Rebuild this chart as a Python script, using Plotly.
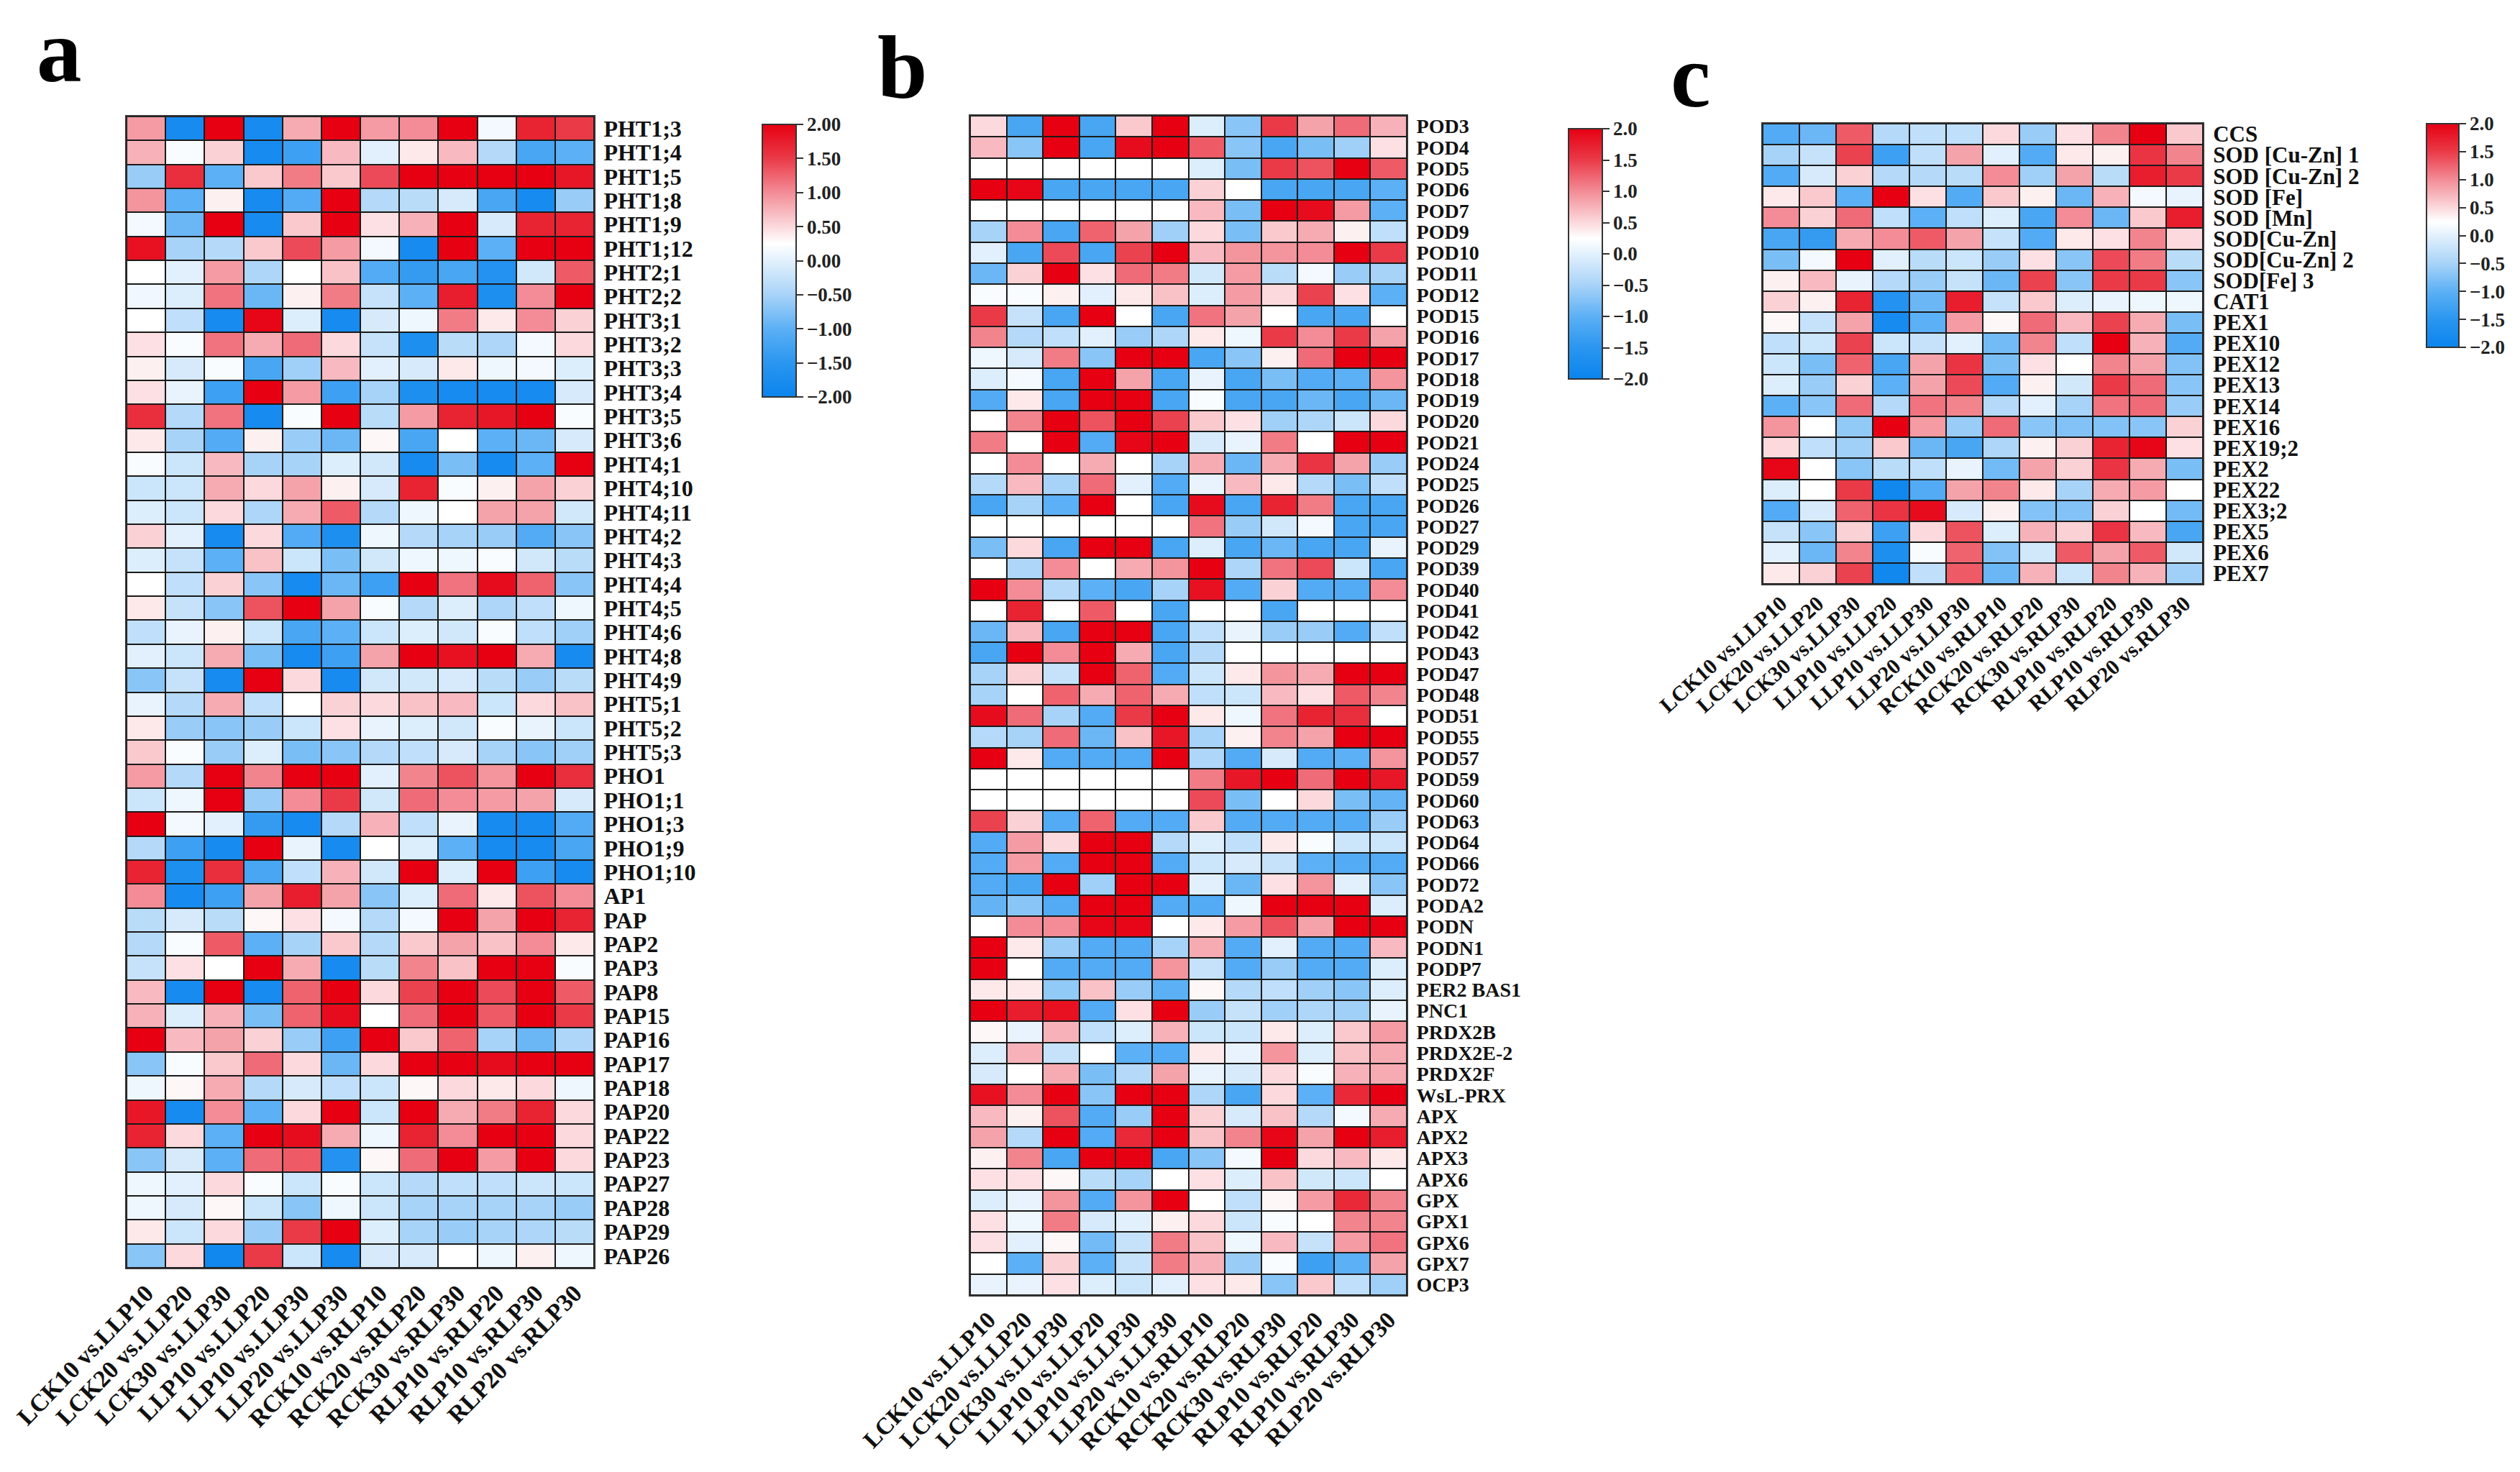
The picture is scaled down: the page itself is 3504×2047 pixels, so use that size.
import plotly.graph_objects as go

W, H = 3504, 2047
FONT = "Liberation Serif"

comparisons = ["LCK10 vs.LLP10", "LCK20 vs.LLP20", "LCK30 vs.LLP30", "LLP10 vs.LLP20", "LLP10 vs.LLP30", "LLP20 vs.LLP30",
               "RCK10 vs.RLP10", "RCK20 vs.RLP20", "RCK30 vs.RLP30", "RLP10 vs.RLP20", "RLP10 vs.RLP30", "RLP20 vs.RLP30"]

genes_a = ["PHT1;3", "PHT1;4", "PHT1;5", "PHT1;8", "PHT1;9", "PHT1;12", "PHT2;1", "PHT2;2", "PHT3;1", "PHT3;2", "PHT3;3", "PHT3;4",
           "PHT3;5", "PHT3;6", "PHT4;1", "PHT4;10", "PHT4;11", "PHT4;2", "PHT4;3", "PHT4;4", "PHT4;5", "PHT4;6", "PHT4;8", "PHT4;9",
           "PHT5;1", "PHT5;2", "PHT5;3", "PHO1", "PHO1;1", "PHO1;3", "PHO1;9", "PHO1;10", "AP1", "PAP", "PAP2", "PAP3", "PAP8",
           "PAP15", "PAP16", "PAP17", "PAP18", "PAP20", "PAP22", "PAP23", "PAP27", "PAP28", "PAP29", "PAP26"]

values_a = [
    [0.9, -1.8, 2, -1.8, 0.8, 2, 0.9, 1.0, 2, 0.15, 1.7, 1.5],
    [0.75, 0.2, 0.55, -1.8, -1.3, 0.7, 0.0, 0.4, 0.7, -0.4, -1.2, -1.0],
    [-0.6, 1.6, -1.0, 0.6, 1.1, 0.6, 1.4, 2, 2, 2, 2, 1.8],
    [0.95, -1.0, 0.35, -1.8, -1.1, 2, -0.4, -0.35, -0.1, -1.2, -1.8, -0.6],
    [0.15, -0.9, 2, -1.8, 0.6, 2, 0.45, 0.75, 2, -0.1, 1.7, 1.7],
    [1.85, -0.5, -0.4, 0.6, 1.4, 0.9, 0.15, -1.8, 2, -1.0, 2, 2],
    [0.25, 0.0, 0.9, -0.45, 0.25, 0.65, -1.1, -1.4, -1.2, -1.6, -0.15, 1.3],
    [0.12, -0.05, 1.15, -0.9, 0.35, 1.1, -0.25, -1.0, 1.75, -1.7, 1.0, 2],
    [0.25, -0.3, -1.8, 1.95, -0.05, -1.8, -0.1, 0.1, 1.1, 0.4, 1.0, 0.55],
    [0.45, 0.2, 1.15, 0.8, 1.2, 0.5, -0.25, -1.7, -0.35, -0.45, 0.15, 0.5],
    [0.35, -0.1, 0.2, -1.2, -0.55, 0.7, 0.0, -0.1, 0.4, 0.1, 0.15, -0.05],
    [0.45, 0.05, -1.3, 2, 0.9, -1.3, -0.5, -1.7, -1.8, -1.8, -1.8, -0.1],
    [1.6, -0.4, 1.15, -1.8, 0.2, 2, -0.35, 0.9, 1.7, 1.8, 2, 0.2],
    [0.4, -0.5, -1.1, 0.35, -0.6, -0.9, 0.3, -1.2, 0.25, -1.0, -0.9, -0.1],
    [0.2, -0.2, 0.7, -0.5, -0.5, -0.05, -0.15, -1.8, -0.8, -1.8, -1.0, 2],
    [-0.2, -0.2, 0.8, 0.5, 0.85, 0.35, -0.1, 1.7, 0.2, 0.35, 0.85, 0.55],
    [-0.05, -0.2, 0.5, -0.45, 0.8, 1.3, -0.4, 0.1, 0.25, 0.85, 0.85, -0.15],
    [0.55, 0.0, -1.8, 0.5, -1.1, -1.7, 0.1, -0.4, -0.5, -0.6, -1.1, -0.7],
    [-0.05, -0.25, -1.0, 0.65, -0.2, -0.8, -0.15, 0.1, 0.1, 0.2, -0.15, -0.35],
    [0.25, -0.3, 0.55, -0.7, -1.8, -0.9, -1.3, 2, 1.15, 1.9, 1.25, -0.7],
    [0.4, -0.25, -0.7, 1.35, 2, 0.85, 0.2, -0.4, -0.05, -0.45, -0.3, 0.1],
    [-0.3, 0.05, 0.35, -0.2, -1.2, -1.0, -0.2, -0.05, -0.15, 0.2, -0.3, -0.55],
    [0.0, -0.2, 0.8, -0.8, -1.8, -1.3, 0.85, 2, 1.85, 2, 0.8, -1.8],
    [-0.7, -0.25, -1.8, 2, 0.5, -1.8, -0.15, -0.15, -0.1, -0.35, -0.6, -0.35],
    [0.05, -0.4, 0.8, -0.3, 0.25, 0.55, 0.5, 0.65, 0.7, -0.2, 0.5, 0.65],
    [0.4, -0.6, -0.7, -0.6, -0.2, 0.45, 0.05, -0.05, -0.15, 0.2, 0.05, -0.2],
    [0.6, 0.2, -0.6, -0.05, -0.8, -0.7, -0.4, -0.3, -0.1, -0.5, -0.7, -0.55],
    [0.9, -0.4, 2, 1.05, 2, 2, 0.0, 1.05, 1.35, 0.95, 2, 1.6],
    [-0.2, 0.1, 2, -0.6, 1.0, 1.5, -0.15, 1.2, 1.0, 0.9, 0.85, -0.1],
    [2, 0.15, 0.0, -1.4, -1.8, -0.4, 0.75, -0.3, 0.05, -1.8, -1.8, -1.1],
    [-0.4, -1.3, -1.8, 2, 0.05, -1.8, 0.25, -0.05, -1.0, -1.8, -1.8, -1.2],
    [1.7, -1.7, 1.6, -1.2, -0.3, 0.75, -0.15, 2, -0.05, 2, -1.3, -1.8],
    [1.0, -1.8, -1.3, 0.85, 1.75, 0.85, -0.7, -0.05, 1.2, 0.4, 1.35, 1.0],
    [-0.35, -0.1, -0.35, 0.3, 0.45, 0.15, -0.4, 0.15, 2, 0.85, 2, 1.7],
    [-0.4, 0.2, 1.3, -1.0, -0.5, 0.6, -0.4, 0.6, 0.85, 0.65, 1.0, 0.4],
    [-0.25, 0.45, 0.25, 2, 0.8, -1.8, -0.35, 1.05, 0.65, 2, 2, 0.2],
    [0.7, -1.8, 2, -1.8, 1.25, 2, 0.5, 1.45, 2, 1.4, 2, 1.3],
    [0.75, -0.05, 0.75, -0.8, 1.25, 1.9, 0.25, 1.2, 2, 1.3, 2, 1.5],
    [2, 0.7, 0.85, 0.55, -0.6, -1.3, 2, 0.6, 1.25, -0.5, -0.9, -0.45],
    [-0.7, 0.2, 0.6, 1.2, 0.5, -0.9, 0.5, 2, 2, 1.9, 2, 2],
    [0.1, 0.3, 0.8, -0.4, -0.1, -0.3, -0.2, 0.3, 0.5, 0.4, 0.5, 0.1],
    [1.8, -1.8, 1.0, -1.0, 0.5, 2, -0.2, 2, 0.8, 1.1, 1.7, 0.5],
    [1.7, 0.5, -1.0, 2, 1.9, 0.8, 0.1, 1.7, 1.0, 2, 2, 0.5],
    [-0.7, -0.1, -1.0, 1.2, 1.3, -1.6, 0.3, 1.2, 2, 0.9, 2, 0.5],
    [0.1, 0.0, 0.5, 0.2, -0.2, 0.2, -0.2, -0.4, -0.3, -0.3, -0.2, -0.2],
    [0.1, -0.1, 0.3, -0.2, -0.7, 0.1, -0.2, -0.5, -0.5, -0.5, -0.5, -0.6],
    [0.4, -0.2, 0.5, -0.6, 1.5, 2, -0.05, -0.5, -0.6, -0.5, -0.45, -0.35],
    [-0.7, 0.5, -1.9, 1.5, -0.2, -1.8, -0.1, -0.1, 0.25, 0.1, 0.35, 0.1],
]

genes_b = ["POD3", "POD4", "POD5", "POD6", "POD7", "POD9", "POD10", "POD11", "POD12", "POD15", "POD16", "POD17", "POD18", "POD19",
           "POD20", "POD21", "POD24", "POD25", "POD26", "POD27", "POD29", "POD39", "POD40", "POD41", "POD42", "POD43", "POD47",
           "POD48", "POD51", "POD55", "POD57", "POD59", "POD60", "POD63", "POD64", "POD66", "POD72", "PODA2", "PODN", "PODN1",
           "PODP7", "PER2 BAS1", "PNC1", "PRDX2B", "PRDX2E-2", "PRDX2F", "WsL-PRX", "APX", "APX2", "APX3", "APX6", "GPX", "GPX1",
           "GPX6", "GPX7", "OCP3"]

values_b = [
    [0.5, -1.2, 2, -1.2, 0.6, 2, -0.05, -0.7, 1.5, 0.85, 1.2, 0.75],
    [0.7, -0.7, 2, -1.2, 1.9, 2, 1.3, -0.7, -1.2, -0.8, -0.55, 0.45],
    [0.25, 0.25, 0.25, 0.25, 0.25, 0.25, -0.05, -0.8, 1.5, 1.35, 2, 1.3],
    [2, 1.95, -1.2, -1.2, -1.2, -1.2, 0.55, 0.25, -1.2, -1.2, -1.2, -1.0],
    [0.25, 0.25, 0.25, 0.25, 0.25, 0.25, 0.7, -0.8, 2, 1.9, 0.9, -1.0],
    [-0.5, 1.0, -1.2, 1.25, 0.85, -0.55, 0.5, -0.8, 0.6, 0.8, 0.35, -0.3],
    [0.0, -1.2, 1.4, -1.2, 1.45, 2, 0.7, 0.95, 0.95, 1.0, 2, 1.5],
    [-0.9, 0.55, 2, 0.45, 1.2, 1.1, -0.15, 0.9, -0.35, 0.15, -0.6, -0.5],
    [0.2, 0.2, 0.35, 0.0, 0.4, 0.65, -0.05, 0.9, 0.5, 1.45, 0.45, -1.0],
    [1.5, -0.25, -1.2, 2, 0.25, -1.2, 1.15, 0.85, 0.25, -1.2, -1.2, 0.25],
    [1.05, -0.4, -0.3, 0.0, -0.6, -0.45, 0.4, 0.1, 1.5, 1.0, 1.5, 0.85],
    [0.1, -0.1, 1.1, -0.7, 2, 2, -1.2, -0.7, 0.35, 1.2, 2, 2],
    [-0.05, 0.15, -1.2, 2, 0.85, -1.2, 0.05, -1.2, -0.8, -1.1, -1.0, 0.95],
    [-1.1, 0.4, -1.2, 2, 2, -1.2, 0.2, -1.2, -1.2, -0.9, -1.2, -0.9],
    [0.25, 1.05, 2, 1.35, 2, 1.45, 0.6, 0.45, -0.55, -0.45, -0.2, 0.5],
    [1.1, 0.25, 2, -1.1, 1.95, 2, -0.1, 0.05, 1.1, 0.25, 2, 2],
    [0.25, 1.0, 0.25, 0.8, 0.25, -0.5, 0.8, -0.9, 0.8, 1.55, 0.85, -0.6],
    [-0.4, 0.7, -0.5, 1.2, 0.0, -1.1, 0.05, 0.7, 0.4, -0.4, -0.8, -0.3],
    [-1.2, -0.5, -1.0, 2, 0.25, -1.2, 1.9, -1.2, 1.7, 1.1, -1.2, -1.2],
    [0.25, 0.25, 0.25, 0.25, 0.25, 0.25, 1.15, -0.6, -0.15, 0.15, -1.2, -1.2],
    [-0.8, 0.5, -1.2, 2, 2, -1.2, -0.05, -1.2, -0.9, -1.2, -1.2, 0.05],
    [0.25, -0.45, 1.0, 0.25, 0.8, 0.95, 2, -0.45, 1.15, 1.4, -0.2, -1.2],
    [2, 1.0, -0.4, -1.0, -1.2, -0.5, 1.85, -1.1, 0.55, -1.1, -1.1, 1.0],
    [0.25, 1.7, 0.25, 1.3, 0.25, -1.2, 0.25, 0.25, -1.2, 0.25, 0.25, 0.25],
    [-0.9, 0.7, -1.2, 2, 2, -1.2, -0.3, 0.05, -0.6, -0.6, -1.1, -0.3],
    [-1.2, 2, 1.0, 2, 0.8, -1.2, -0.4, 0.25, 0.25, 0.25, 0.25, 0.25],
    [-0.5, 0.55, -0.25, 2, 1.25, -1.1, -0.2, 0.4, 0.95, 0.8, 2, 2],
    [-0.5, 0.25, 1.25, 0.8, 1.25, 0.8, -0.3, -0.2, 0.7, 0.45, 1.3, 1.05],
    [1.9, 1.2, -0.5, -1.1, 1.5, 2, 0.4, 0.1, 1.15, 1.7, 1.6, 0.25],
    [-0.4, -0.5, 1.2, -0.9, 0.65, 1.8, -0.5, 0.35, 1.05, 0.85, 2, 2],
    [2, 0.4, -1.1, -1.1, -1.1, 2, -0.45, -1.1, -0.1, -1.1, -1.0, 0.95],
    [0.25, 0.25, 0.25, 0.25, 0.25, 0.25, 1.1, 1.8, 2, 1.2, 2, 1.8],
    [0.25, 0.25, 0.25, 0.25, 0.25, 0.25, 1.4, -0.8, 0.25, 0.5, -0.8, -0.95],
    [1.45, 0.55, -1.1, 1.25, -1.1, -1.1, 0.6, -1.1, -1.1, -1.1, -1.1, -0.6],
    [-1.1, 0.9, 0.5, 2, 2, -0.4, -0.05, -0.3, 0.4, 0.2, -0.2, -0.2],
    [-1.1, 0.9, -1.1, 2, 2, -1.1, -0.2, -0.1, -0.25, -1.0, -1.1, -1.1],
    [-1.1, -1.2, 2, -0.55, 2, 2, 0.0, -0.9, 0.45, 0.95, 0.0, -0.7],
    [-0.95, -0.7, -1.1, 2, 2, -1.1, -1.1, 0.1, 2, 2, 2, -0.05],
    [0.25, 1.0, 1.0, 1.95, 1.95, 0.25, 0.4, 0.9, 1.35, 0.85, 2, 2],
    [2, 0.4, -0.6, -1.1, -1.1, -0.5, 0.8, -1.1, 0.0, -1.1, -1.1, 0.7],
    [2, 0.25, -1.1, -1.1, -1.1, 0.95, -0.25, -1.1, -0.6, -1.1, -1.1, -0.05],
    [0.4, 0.4, -0.65, 0.65, -0.6, -1.0, 0.3, -0.4, -0.3, -0.55, -0.7, -0.05],
    [2, 1.75, 1.85, -1.1, 0.45, 2, -0.6, -0.25, -0.55, -0.45, -0.55, 0.05],
    [0.3, 0.05, 0.75, -0.3, -0.05, 0.75, -0.2, -0.2, 0.4, -0.05, 0.6, 0.9],
    [-0.05, 0.75, -0.25, 0.25, -1.0, -1.1, 0.4, 0.05, 0.95, -0.05, 0.65, 0.8],
    [-0.1, 0.25, 0.8, -0.8, -0.4, 0.85, 0.05, -0.1, 0.5, 0.2, 0.75, 0.8],
    [1.85, 1.0, 2, -0.7, 2, 2, -0.45, -1.2, 0.5, -1.0, 1.65, 2],
    [0.7, 0.35, 1.35, -1.1, -0.6, 2, 0.55, -0.1, 0.65, -0.4, 0.15, 0.8],
    [0.85, -0.4, 2, -1.1, 1.65, 2, 0.65, 1.05, 1.95, 0.85, 2, 1.75],
    [0.35, 1.05, -1.2, 2, 2, -1.2, -0.7, 0.15, 2, 0.5, 0.7, 0.4],
    [0.45, 0.45, 0.3, -0.35, -0.5, 0.25, 0.45, -0.05, 0.65, -0.15, -0.2, 0.25],
    [-0.05, 0.05, 0.95, -1.1, 0.95, 2, 0.25, -0.3, 0.3, 0.9, 1.65, 1.05],
    [0.45, 0.1, 1.1, -0.1, 0.0, 0.35, 0.5, -0.2, 0.2, 0.25, 1.05, 1.05],
    [0.45, 0.0, 0.3, -0.85, -0.25, 1.1, 0.65, 0.1, 0.7, -0.25, 0.9, 1.15],
    [0.25, -1.0, 0.55, -1.0, -0.25, 1.1, 0.75, -0.6, 0.2, -1.3, -1.0, 0.85],
    [0.05, 0.05, 0.45, -0.05, -0.2, 0.0, 0.45, 0.4, -0.7, 0.6, -0.3, -0.55],
]

genes_c = ["CCS", "SOD [Cu-Zn] 1", "SOD [Cu-Zn] 2", "SOD [Fe]", "SOD [Mn]", "SOD[Cu-Zn]", "SOD[Cu-Zn] 2", "SOD[Fe] 3", "CAT1", "PEX1",
           "PEX10", "PEX12", "PEX13", "PEX14", "PEX16", "PEX19;2", "PEX2", "PEX22", "PEX3;2", "PEX5", "PEX6", "PEX7"]

values_c = [
    [-1.1, -0.9, 1.3, -0.4, -0.3, -0.3, 0.5, -0.6, 0.45, 1.05, 2, 0.6],
    [-0.5, -0.25, 1.45, -1.3, -0.3, 0.85, 0.0, -1.1, 0.4, 0.35, 1.55, 1.05],
    [-1.1, -0.1, 0.55, -0.4, -0.4, -0.35, 1.0, -0.55, 0.85, -0.35, 1.75, 1.5],
    [0.4, 0.6, -1.0, 2, 0.45, -1.1, 0.6, 0.35, -0.9, 0.75, 0.15, 0.05],
    [1.0, 0.55, 1.2, -0.3, -1.0, -0.3, -0.05, -1.2, 1.0, -0.9, 0.6, 1.75],
    [-1.2, -1.4, 0.8, 1.0, 1.3, 0.85, -0.25, -1.1, 0.4, 0.45, 1.05, 0.5],
    [-0.8, 0.15, 2, 0.0, -0.35, -0.2, -0.6, 0.45, -0.7, 1.4, 1.1, -0.35],
    [0.35, 0.7, 0.05, -0.4, -0.6, -0.25, -0.9, 1.45, -0.7, 1.5, 1.5, -0.7],
    [0.55, 0.35, 1.7, -1.6, -0.9, 1.75, -0.25, 0.6, -0.05, 0.05, 0.1, 0.1],
    [0.3, -0.25, 0.85, -1.8, -1.0, 0.9, 0.3, 1.2, 0.7, 1.45, 0.8, -0.8],
    [-0.3, -0.2, 1.45, -0.2, -0.25, 0.0, -0.85, 1.05, -0.3, 2, 0.75, -1.1],
    [-0.2, -0.8, 1.25, -1.2, 0.85, 1.55, -0.8, 0.45, 0.25, 1.05, 0.85, -0.75],
    [-0.05, -0.6, 0.55, -1.0, 0.85, 1.4, -1.1, 0.35, -0.15, 1.5, 1.2, -0.7],
    [-1.0, -0.7, 1.2, -0.4, 1.15, 1.05, -0.4, 0.0, -0.5, 1.15, 1.2, -0.6],
    [0.95, 0.25, -0.65, 2, 0.9, -0.6, 1.2, -0.7, -0.75, -0.75, -0.7, 0.55],
    [0.5, -0.3, -0.55, 0.6, -0.9, -1.2, -0.45, 0.35, 0.55, 1.7, 1.95, 0.45],
    [1.95, 0.25, -0.7, -0.35, -0.3, 0.05, -0.85, 0.85, 0.55, 1.55, 0.8, -0.8],
    [-0.05, 0.25, 1.5, -1.9, -1.1, 0.85, 1.05, 0.4, -0.5, 0.8, 0.9, 0.25],
    [-1.1, -0.1, 1.25, 1.55, 1.9, -0.1, 0.35, -0.75, -0.75, 0.55, 0.25, -0.85],
    [-0.25, -0.7, 0.55, -1.3, 0.5, 1.35, -0.05, 0.75, 0.55, 1.55, 0.7, -1.2],
    [0.0, -0.9, 1.05, -1.7, 0.2, 1.25, -0.75, -0.15, 1.3, 0.85, 1.3, -0.15],
    [0.4, 0.55, 1.45, -1.9, -0.3, 1.3, -0.9, 0.75, -0.2, 1.05, 0.75, -0.55],
]

colorbar_ticks = [2.0, 1.5, 1.0, 0.5, 0.0, -0.5, -1.0, -1.5, -2.0]
colorscale = [[0, "#0a84ee"], [0.125, "#2a96f0"], [0.25, "#5cb0f5"], [0.375, "#a8d3f8"], [0.5625, "#ffffff"],
              [0.75, "#f38c96"], [0.875, "#ea3a48"], [1, "#e60012"]]


def px(x):
    return x / W


def py(y):
    return 1 - y / H


panels = [
    dict(name="", xa="x", ya="y", genes=genes_a, z=values_a, box=(176, 826, 162, 1763), font=32, xfont=34, angle=-46, off=0, yoff=5,
         cb=(1060, 173, 47, 379), fmt=".2f"),
    dict(name="2", xa="x2", ya="y2", genes=genes_b, z=values_b, box=(1349, 1956, 161, 1801), font=28, xfont=33, angle=-46, off=0, yoff=6,
         cb=(2181, 179, 47, 348), fmt=".1f"),
    dict(name="3", xa="x3", ya="y3", genes=genes_c, z=values_c, box=(2451, 3063, 172, 812), font=31, xfont=30, angle=-42, off=-4, yoff=6,
         cb=(3374, 172, 45, 311), fmt=".1f"),
]

fig = go.Figure()
layout = {}
for p in panels:
    x0, x1, y0, y1 = p["box"]
    cx, cy, ct, cl = p["cb"]
    fig.add_trace(go.Heatmap(
        z=p["z"], x=comparisons, y=p["genes"], xaxis=p["xa"], yaxis=p["ya"],
        zmin=-2, zmax=2, colorscale=colorscale, xgap=2, ygap=2,
        colorbar=dict(
            x=px(cx), xanchor="left", xpad=0, y=py(cy), yanchor="top", ypad=0,
            len=cl, lenmode="pixels", thickness=ct, thicknessmode="pixels",
            outlinecolor="#333333", outlinewidth=2,
            tickvals=colorbar_ticks, tickformat=p["fmt"], ticks="outside", ticklen=9, tickwidth=2, tickcolor="#333333",
            tickfont=dict(family=FONT, size=27, color="#222222", weight=700),
        ),
    ))
    layout["xaxis" + p["name"]] = dict(
        domain=[px(x0), px(x1)], anchor=p["ya"], side="bottom", tickangle=p["angle"], ticks="", showgrid=False,
        type="category", ticklabelstandoff=p["off"], showline=True, mirror=True, linecolor="#333333", linewidth=2,
        tickfont=dict(family=FONT, size=p["xfont"], color="#111111", weight=700), automargin=False,
    )
    layout["yaxis" + p["name"]] = dict(
        domain=[py(y1), py(y0)], anchor=p["xa"], side="right", autorange="reversed", ticks="", showgrid=False,
        type="category", ticklabelstandoff=p["yoff"], showline=True, mirror=True, linecolor="#333333", linewidth=2,
        tickfont=dict(family=FONT, size=p["font"], color="#111111", weight=700), automargin=False, dtick=1,
    )

letters = [("a", 82, 142), ("b", 1255, 165), ("c", 2350, 177)]
annotations = [
    dict(text=t, x=px(x), y=py(y), xref="paper", yref="paper", xanchor="center", yanchor="bottom", showarrow=False,
         font=dict(family=FONT, size=125, color="#000000", weight=700))
    for t, x, y in letters
]

fig.update_layout(
    width=W, height=H, margin=dict(l=0, r=0, t=0, b=0), paper_bgcolor="#ffffff", plot_bgcolor="#1a1a1a",
    annotations=annotations, **layout,
)
fig.write_html("out.html", post_script="document.body.style.margin='0';", config={"displayModeBar": False})
